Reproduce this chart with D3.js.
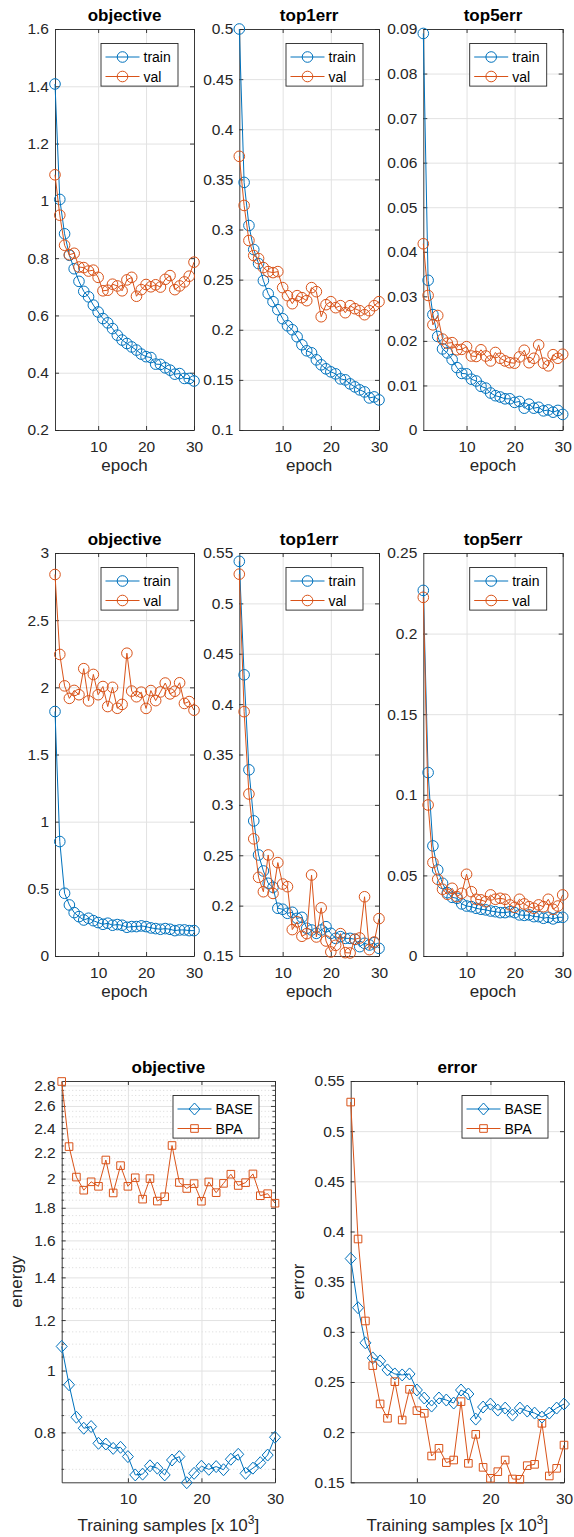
<!DOCTYPE html>
<html>
<head>
<meta charset="utf-8">
<script src="https://cdn.jsdelivr.net/npm/d3@7"></script>
<style>
  body { margin: 0; background: #fff; }
  text { font-family: Arial, "Liberation Sans", sans-serif; }
</style>
</head>
<body>
<svg id="chart" width="574" height="1537"></svg>
<script>
// x values (epoch / training samples x 10^3)
const epochs = [1,2,3,4,5,6,7,8,9,10,11,12,13,14,15,16,17,18,19,20,21,22,23,24,25,26,27,28,29,30];
const xTicks = [10, 20, 30];

// BASE run (row 1)
const baseTrainObjective = [1.408,1.005,0.885,0.81,0.763,0.719,0.684,0.665,0.636,0.612,0.589,0.574,0.554,0.531,0.514,0.502,0.49,0.479,0.465,0.456,0.453,0.43,0.429,0.417,0.409,0.395,0.397,0.38,0.38,0.371];
const baseValObjective = [1.091,0.95,0.845,0.812,0.817,0.769,0.767,0.755,0.758,0.733,0.686,0.688,0.709,0.703,0.686,0.724,0.733,0.667,0.69,0.708,0.7,0.707,0.699,0.726,0.739,0.69,0.703,0.717,0.737,0.786];
const baseTrainTop1 = [0.5,0.347,0.304,0.28,0.266,0.249,0.236,0.228,0.22,0.211,0.204,0.2,0.193,0.185,0.179,0.177,0.17,0.165,0.161,0.158,0.156,0.151,0.15,0.146,0.143,0.14,0.138,0.132,0.133,0.13];
const baseValTop1 = [0.373,0.324,0.289,0.274,0.271,0.262,0.258,0.257,0.258,0.242,0.234,0.226,0.234,0.232,0.229,0.242,0.238,0.213,0.225,0.228,0.222,0.224,0.217,0.224,0.221,0.219,0.215,0.219,0.224,0.228];
const baseTrainTop5 = [0.089,0.0336,0.0259,0.021,0.0182,0.0173,0.0158,0.014,0.0127,0.0126,0.0114,0.011,0.0098,0.0094,0.0083,0.0077,0.0074,0.007,0.007,0.0062,0.0064,0.0049,0.0058,0.0049,0.0051,0.0043,0.0045,0.004,0.0044,0.0035];
const baseValTop5 = [0.0418,0.0302,0.0236,0.0257,0.0204,0.0195,0.0196,0.018,0.0181,0.0187,0.0166,0.0165,0.018,0.0166,0.0155,0.0174,0.0161,0.0155,0.0151,0.015,0.0164,0.0179,0.0151,0.0161,0.0191,0.015,0.0144,0.0169,0.0161,0.017];

// BPA run (row 2)
const bpaTrainObjective = [1.82,0.852,0.467,0.38,0.323,0.293,0.268,0.281,0.263,0.249,0.236,0.244,0.229,0.234,0.229,0.214,0.219,0.219,0.224,0.219,0.209,0.204,0.199,0.204,0.199,0.189,0.194,0.194,0.189,0.189];
const bpaValObjective = [2.84,2.245,2.011,1.918,1.977,1.945,2.139,1.899,2.096,1.945,2.006,1.857,2.0,1.844,1.873,2.254,1.972,1.93,1.964,1.843,1.976,1.901,1.966,2.032,1.951,1.971,2.034,1.88,1.894,1.83];
const bpaTrainTop1 = [0.5417,0.4291,0.3348,0.2841,0.2503,0.2344,0.2222,0.2182,0.1974,0.1964,0.1924,0.1934,0.1874,0.1884,0.1775,0.1758,0.1725,0.1758,0.1791,0.1725,0.1675,0.1692,0.1675,0.1675,0.1666,0.1593,0.1626,0.1609,0.1632,0.1576];
const bpaValTop1 = [0.529,0.3925,0.3108,0.2663,0.2281,0.2138,0.2503,0.2121,0.2427,0.2214,0.2188,0.1762,0.1839,0.1696,0.1722,0.2304,0.1689,0.1978,0.1649,0.154,0.1606,0.1722,0.1533,0.153,0.1666,0.1679,0.2088,0.1563,0.1639,0.1871];
const bpaTrainTop5 = [0.2268,0.1138,0.0683,0.0534,0.0451,0.0393,0.0364,0.0358,0.0323,0.031,0.0306,0.0296,0.029,0.0286,0.0279,0.0275,0.0269,0.0269,0.0275,0.0269,0.0255,0.0252,0.0255,0.0244,0.0244,0.0234,0.024,0.023,0.024,0.024];
const bpaValTop5 = [0.2225,0.0937,0.058,0.0476,0.0414,0.0383,0.042,0.0368,0.0389,0.0507,0.0399,0.0352,0.0348,0.0337,0.0379,0.0352,0.0358,0.0352,0.0317,0.0302,0.0352,0.0323,0.0306,0.0296,0.0317,0.0306,0.0352,0.029,0.031,0.0379];

// y tick values
const objTicksA = [0.2,0.4,0.6,0.8,1,1.2,1.4,1.6];
const top1TicksA = [0.1,0.15,0.2,0.25,0.3,0.35,0.4,0.45,0.5];
const top5TicksA = [0,0.01,0.02,0.03,0.04,0.05,0.06,0.07,0.08,0.09];
const objTicksB = [0,0.5,1,1.5,2,2.5,3];
const top1TicksB = [0.15,0.2,0.25,0.3,0.35,0.4,0.45,0.5,0.55];
const top5TicksB = [0,0.05,0.1,0.15,0.2,0.25];
const energyTicks = [0.8,1,1.2,1.4,1.6,1.8,2,2.2,2.4,2.6,2.8];
const errorTicks = [0.15,0.2,0.25,0.3,0.35,0.4,0.45,0.5,0.55];

const BLUE = "#0072BD", ORANGE = "#D95319", AX = "#262626";
const fmt = d3.format("~g");
const svg = d3.select("#chart");

function markerPath(type) {
  if (type == "diamond") return "M0,-6L5.5,0L0,6L-5.5,0Z";
  if (type == "square") return "M-3.8,-3.8H3.8V3.8H-3.8Z";
  return d3.arc()({innerRadius: 0, outerRadius: 5.3, startAngle: 0, endAngle: 2 * Math.PI});
}

function styleAxis(s) {
  s.select(".domain").attr("stroke", AX).attr("stroke-width", 0.9);
  s.selectAll(".tick line").attr("stroke", AX).attr("stroke-width", 0.9);
  s.selectAll(".tick text").attr("fill", AX).style("font-size", "15.5px");
}

function drawPanel(p) {
  const w = p.box[2] - p.box[0], h = p.box[3] - p.box[1];
  const g = svg.append("g").attr("transform", "translate(" + p.box[0] + "," + p.box[1] + ")");
  const x = d3.scaleLinear().domain([1, 30]).range([0, w]);
  const y = (p.log ? d3.scaleLog() : d3.scaleLinear()).domain(p.yDomain).range([h, 0]);

  // minor grid (log panel only)
  if (p.yMinor) {
    g.append("g").selectAll("line").data(p.yMinor).join("line")
      .attr("x1", 0).attr("x2", w)
      .attr("y1", d => y(d)).attr("y2", d => y(d))
      .attr("stroke", "#cfcfcf").attr("stroke-width", 0.8).attr("stroke-dasharray", "1,2.5");
    [[0, 2.5], [w, -2.5]].forEach(([x0, dx]) => {
      g.append("g").selectAll("line").data(p.yMinor).join("line")
        .attr("x1", x0).attr("x2", x0 + dx)
        .attr("y1", d => y(d)).attr("y2", d => y(d))
        .attr("stroke", AX).attr("stroke-width", 0.8);
    });
  }

  // major grid
  g.append("g")
    .call(d3.axisLeft(y).tickValues(p.yTicks).tickSize(-w).tickFormat(""))
    .call(s => s.select(".domain").remove())
    .selectAll("line").attr("stroke", "#e2e2e2");
  g.append("g")
    .call(d3.axisBottom(x).tickValues(xTicks).tickSize(h).tickFormat(""))
    .call(s => s.select(".domain").remove())
    .selectAll("line").attr("stroke", "#e2e2e2");

  // axes with inward ticks on all four sides
  g.append("g")
    .call(d3.axisLeft(y).tickValues(p.yTicks).tickSize(-4).tickSizeOuter(0).tickPadding(6).tickFormat(fmt))
    .call(styleAxis);
  g.append("g").attr("transform", "translate(" + w + ",0)")
    .call(d3.axisRight(y).tickValues(p.yTicks).tickSize(-4).tickSizeOuter(0).tickFormat(""))
    .call(styleAxis);
  g.append("g").attr("transform", "translate(0," + h + ")")
    .call(d3.axisBottom(x).tickValues(xTicks).tickSize(-4).tickSizeOuter(0).tickPadding(11).tickFormat(fmt))
    .call(styleAxis);
  g.append("g")
    .call(d3.axisTop(x).tickValues(xTicks).tickSize(-4).tickSizeOuter(0).tickFormat(""))
    .call(styleAxis);
  g.selectAll(".tick text").attr("font-family", null);

  // series
  const line = d3.line().x(d => x(d[0])).y(d => y(d[1]));
  p.series.forEach(s => {
    const pts = epochs.map((e, i) => [e, s.values[i]]);
    g.append("path").datum(pts).attr("d", line)
      .attr("fill", "none").attr("stroke", s.color).attr("stroke-width", 1);
    g.append("g").selectAll("path").data(pts).join("path")
      .attr("transform", d => "translate(" + x(d[0]) + "," + y(d[1]) + ")")
      .attr("d", markerPath(s.marker))
      .attr("fill", "none").attr("stroke", s.color).attr("stroke-width", 1);
  });

  // title
  g.append("text").attr("x", w / 2).attr("y", -8).attr("text-anchor", "middle")
    .style("font-size", "17px").style("font-weight", "bold").attr("fill", "#000")
    .text(p.title);

  // x label
  const xl = g.append("text").attr("x", w / 2).attr("y", h + p.xLabelDy).attr("text-anchor", "middle")
    .style("font-size", "17px").attr("fill", AX);
  if (p.xLabel == "samples") {
    xl.append("tspan").text("Training samples [x 10");
    xl.append("tspan").attr("dy", -7).style("font-size", "12px").text("3");
    xl.append("tspan").attr("dy", 7).text("]");
  } else {
    xl.text(p.xLabel);
  }

  // y label
  if (p.yLabel) {
    g.append("text").attr("transform", "translate(" + p.yLabelDx + "," + h / 2 + ") rotate(-90)")
      .attr("text-anchor", "middle").style("font-size", "17px").attr("fill", AX)
      .text(p.yLabel);
  }

  // legend
  const lw = p.legendW, lh = 42.6;
  const lg = g.append("g").attr("transform", "translate(" + (w - 16 - lw) + ",14.5)");
  lg.append("rect").attr("width", lw).attr("height", lh)
    .attr("fill", "#fff").attr("stroke", AX).attr("stroke-width", 0.9);
  p.series.forEach((s, i) => {
    const yy = 13.5 + i * 19.5;
    lg.append("line").attr("x1", 4.5).attr("x2", 38.5).attr("y1", yy).attr("y2", yy)
      .attr("stroke", s.color).attr("stroke-width", 1);
    lg.append("path").attr("transform", "translate(21.5," + yy + ")").attr("d", markerPath(s.marker))
      .attr("fill", "none").attr("stroke", s.color).attr("stroke-width", 1);
    lg.append("text").attr("x", 42.5).attr("y", yy + 5).style("font-size", "14px").attr("fill", "#000")
      .text(s.name);
  });
}

const colsA = [[55, 194], [239.3, 379], [423.3, 562.7]];
const rowTop = [29, 553], rowBottom = [430, 956];

const panels = [
  {col: 0, row: 0, title: "objective", yDomain: [0.2, 1.6], yTicks: objTicksA, train: baseTrainObjective, val: baseValObjective},
  {col: 1, row: 0, title: "top1err", yDomain: [0.1, 0.5], yTicks: top1TicksA, train: baseTrainTop1, val: baseValTop1},
  {col: 2, row: 0, title: "top5err", yDomain: [0, 0.09], yTicks: top5TicksA, train: baseTrainTop5, val: baseValTop5},
  {col: 0, row: 1, title: "objective", yDomain: [0, 3], yTicks: objTicksB, train: bpaTrainObjective, val: bpaValObjective},
  {col: 1, row: 1, title: "top1err", yDomain: [0.15, 0.55], yTicks: top1TicksB, train: bpaTrainTop1, val: bpaValTop1},
  {col: 2, row: 1, title: "top5err", yDomain: [0, 0.25], yTicks: top5TicksB, train: bpaTrainTop5, val: bpaValTop5}
];

panels.forEach(p => {
  drawPanel({
    box: [colsA[p.col][0], rowTop[p.row], colsA[p.col][1], rowBottom[p.row]],
    yDomain: p.yDomain, yTicks: p.yTicks, title: p.title,
    xLabel: "epoch", xLabelDy: 41, legendW: 77,
    series: [
      {name: "train", values: p.train, color: BLUE, marker: "circle"},
      {name: "val", values: p.val, color: ORANGE, marker: "circle"}
    ]
  });
});

// minor log grid every 0.05
const energyMinor = d3.range(14, 57).map(k => k / 20).filter(v => !energyTicks.some(t => Math.abs(t - v) < 1e-9));

drawPanel({
  box: [61.7, 1081, 275, 1482.3], log: true,
  yDomain: [0.668, 2.845], yTicks: energyTicks, yMinor: energyMinor,
  title: "objective", xLabel: "samples", xLabelDy: 49,
  yLabel: "energy", yLabelDx: -39.7, legendW: 86,
  series: [
    {name: "BASE", values: baseValObjective, color: BLUE, marker: "diamond"},
    {name: "BPA", values: bpaValObjective, color: ORANGE, marker: "square"}
  ]
});

drawPanel({
  box: [350.7, 1081, 564, 1482.3],
  yDomain: [0.15, 0.55], yTicks: errorTicks,
  title: "error", xLabel: "samples", xLabelDy: 49,
  yLabel: "error", yLabelDx: -46.7, legendW: 86,
  series: [
    {name: "BASE", values: baseValTop1, color: BLUE, marker: "diamond"},
    {name: "BPA", values: bpaValTop1, color: ORANGE, marker: "square"}
  ]
});
</script>
</body>
</html>
